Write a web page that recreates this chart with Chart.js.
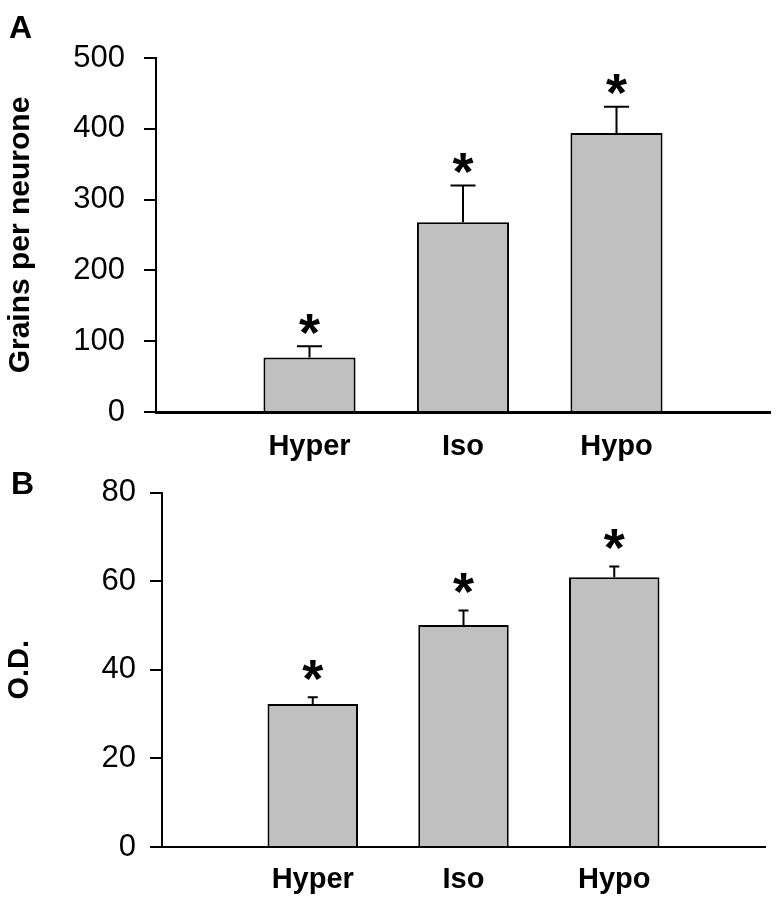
<!DOCTYPE html>
<html lang="en">
  <head>
    <meta charset="UTF-8" />
    <title>Grains per neurone / O.D.</title>
    <script src="https://cdn.jsdelivr.net/npm/chart.js"></script>
    <style>
      body { margin: 0; background: #fff; }
      .panel { position: absolute; left: 0; width: 777px; }
      .letter {
        position: absolute;
        font: bold 32px "Liberation Sans", Arial, sans-serif;
        color: #000;
      }
    </style>
  </head>
  <body>
    <div class="panel" style="top:0;height:480px"><canvas id="chartA"></canvas></div>
    <div class="panel" style="top:460px;height:440px"><canvas id="chartB"></canvas></div>
    <div class="letter" style="left:9px;top:9px">A</div>
    <div class="letter" style="left:11px;top:465px">B</div>
    <script>
      // data
      var groups = ["Hyper", "Iso", "Hypo"];
      var grainsMean = [77, 268, 394];
      var grainsSem = [16, 52, 37];
      var grainsTicks = [0, 100, 200, 300, 400, 500];
      var odMean = [32.3, 50.1, 60.9];
      var odSem = [1.5, 3.3, 2.4];
      var odTicks = [0, 20, 40, 60, 80];

      var FONT = '"Liberation Sans", Arial, sans-serif';

      // empty slot on each side so the bars sit like in the original
      function padded(arr) {
        return [null].concat(arr, [null]);
      }

      // error bar (upper only) + asterisk
      var errorBars = {
        id: "errorBars",
        afterDatasetsDraw: function (chart, args, opts) {
          var ctx = chart.ctx;
          var x = chart.scales.x, y = chart.scales.y;
          ctx.save();
          ctx.strokeStyle = "#000";
          ctx.lineWidth = 2;
          opts.mean.forEach(function (m, i) {
            var px = x.getPixelForValue(i + 1);
            var top = y.getPixelForValue(m);
            var cap = y.getPixelForValue(m + opts.sem[i]);
            ctx.beginPath();
            ctx.moveTo(px, top);
            ctx.lineTo(px, cap);
            ctx.moveTo(px - opts.capWidth / 2, cap);
            ctx.lineTo(px + opts.capWidth / 2, cap);
            ctx.stroke();

            ctx.fillStyle = "#000";
            ctx.font = "bold 54px " + FONT;
            ctx.textAlign = "center";
            ctx.textBaseline = "alphabetic";
            var mt = ctx.measureText("*");
            var mid = (mt.actualBoundingBoxAscent - mt.actualBoundingBoxDescent) / 2;
            ctx.fillText("*", px, cap - opts.starGap + mid);
          });
          ctx.restore();
        },
      };

      function makeChart(id, mean, sem, ticks, title, cfg) {
        var ctx = document.getElementById(id).getContext("2d");
        return new Chart(ctx, {
          type: "bar",
          data: {
            labels: [""].concat(groups, [""]),
            datasets: [
              {
                data: padded(mean),
                backgroundColor: "#c0c0c0",
                borderColor: "#000",
                borderWidth: 2,
                borderSkipped: "bottom",
                barPercentage: 1,
                categoryPercentage: 0.6,
              },
            ],
          },
          plugins: [errorBars],
          options: {
            responsive: true,
            maintainAspectRatio: false,
            animation: false,
            layout: {
              padding: { top: cfg.padTop, right: cfg.padRight, left: 0, bottom: 0 },
            },
            plugins: {
              legend: { display: false },
              tooltip: { enabled: false },
              errorBars: {
                mean: mean,
                sem: sem,
                capWidth: cfg.capWidth,
                starGap: cfg.starGap,
              },
            },
            scales: {
              x: {
                offset: false,
                z: 1,
                // invisible tick marks push the labels down without adding side padding
                grid: {
                  drawOnChartArea: false,
                  drawTicks: true,
                  tickLength: cfg.xPad,
                  color: "rgba(0,0,0,0)",
                },
                border: { display: true, color: "#000", width: cfg.xBorder },
                ticks: {
                  color: "#000",
                  padding: 0,
                  maxRotation: 0,
                  autoSkip: false,
                  font: { family: FONT, size: 29, weight: "bold" },
                },
                afterFit: function (s) {
                  s.height = cfg.xHeight;
                },
              },
              y: {
                min: ticks[0],
                max: ticks[ticks.length - 1],
                afterBuildTicks: function (s) {
                  s.ticks = ticks.map(function (v) {
                    return { value: v };
                  });
                },
                grid: {
                  drawOnChartArea: false,
                  drawTicks: true,
                  tickLength: 12,
                  color: "#000",
                  lineWidth: 2,
                },
                border: { display: true, color: "#000", width: 2 },
                ticks: {
                  color: "#000",
                  padding: cfg.yPad,
                  font: { family: FONT, size: 31 },
                },
                title: {
                  display: true,
                  text: title,
                  color: "#000",
                  padding: { top: 3, bottom: 0 },
                  font: { family: FONT, size: cfg.titleSize, weight: "bold" },
                },
                afterFit: function (s) {
                  s.width = cfg.yWidth;
                },
              },
            },
          },
        });
      }

      makeChart("chartA", grainsMean, grainsSem, grainsTicks, "Grains per neurone", {
        padTop: 58,
        padRight: 7,
        xHeight: 68,
        xPad: 18,
        xBorder: 3,
        yWidth: 156,
        yPad: 19,
        titleSize: 30,
        capWidth: 25,
        starGap: 22,
      });

      makeChart("chartB", odMean, odSem, odTicks, "O.D.", {
        padTop: 30,
        padRight: 12,
        xHeight: 53,
        xPad: 16,
        xBorder: 2,
        yWidth: 162,
        yPad: 14,
        titleSize: 29,
        capWidth: 10,
        starGap: 27,
      });
    </script>
  </body>
</html>
